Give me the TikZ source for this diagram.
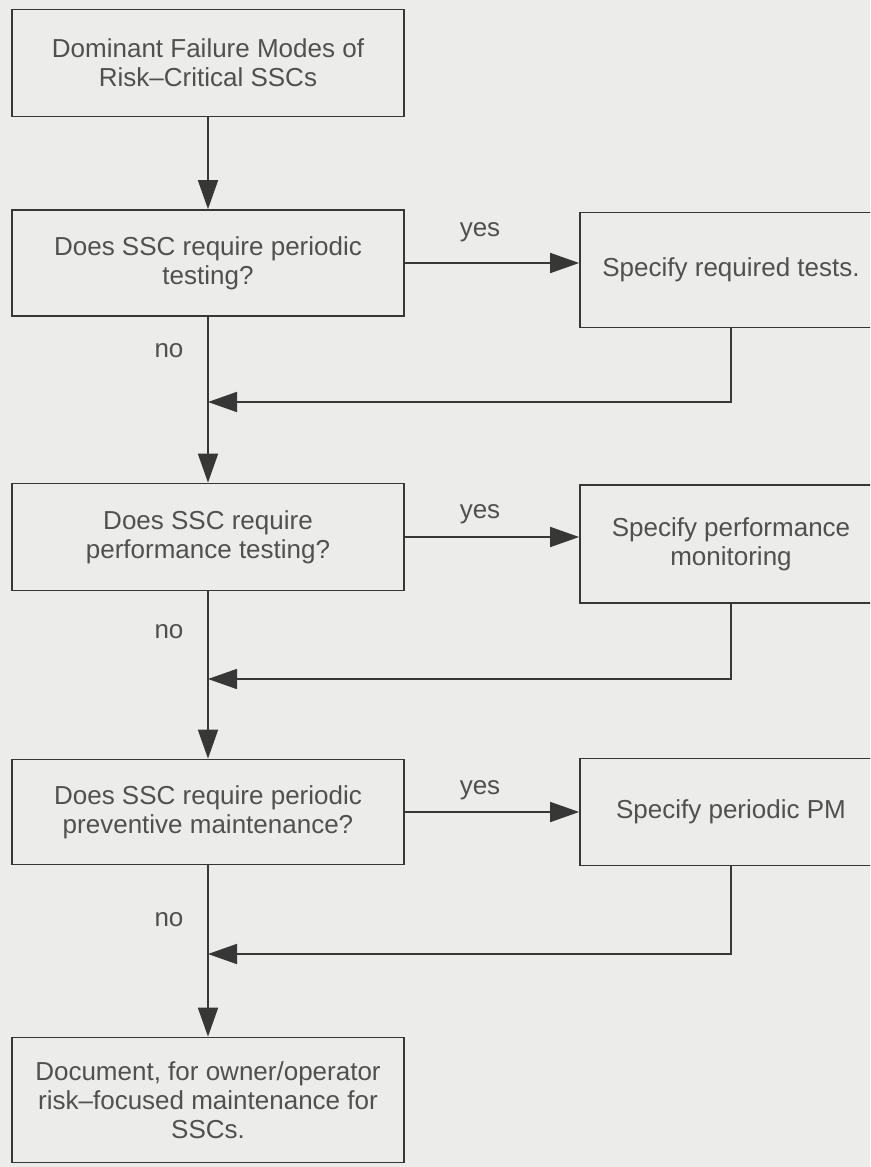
\documentclass[tikz,border=0pt]{standalone}
\usepackage{fontspec}
\setmainfont{Liberation Sans}
\usetikzlibrary{arrows.meta}
\definecolor{bg}{RGB}{236,236,234}
\definecolor{ln}{RGB}{55,55,55}
\definecolor{tx}{RGB}{80,80,80}
\begin{document}
\begin{tikzpicture}[x=1pt,y=-1pt,
  every node/.style={font=\fontsize{26}{29}\selectfont, text=tx},
  box/.style={draw=ln, line width=1.7pt, rectangle, align=center, inner sep=0pt},
  arr/.style={draw=ln, line width=1.7pt, -{Triangle[length=29pt,width=20pt]}},
  lab/.style={inner sep=0pt}]
\useasboundingbox (0,0) rectangle (870,1167);
\fill[bg] (0,0) rectangle (870,1167);
\clip (0,0) rectangle (870,1167);

\node[box, minimum width=392pt, minimum height=107pt] (b1) at (208,63) {Dominant Failure Modes of\\Risk--Critical SSCs};
\node[box, minimum width=392pt, minimum height=106pt] (b2) at (208,263) {Does SSC require periodic\\testing?};
\node[box, minimum width=392pt, minimum height=107pt] (b3) at (208,537) {Does SSC require\\performance testing?};
\node[box, minimum width=392pt, minimum height=105pt] (b4) at (208,812) {Does SSC require periodic\\preventive maintenance?};
\node[box, minimum width=392pt, minimum height=125pt] (b5) at (208,1100) {Document, for owner/operator\\risk--focused maintenance for\\SSCs.};

\node[box, minimum width=302pt, minimum height=115pt] (r1) at (731,270) {Specify required tests.};
\node[box, minimum width=302pt, minimum height=118pt] (r2) at (731,544) {Specify performance\\monitoring};
\node[box, minimum width=302pt, minimum height=107pt] (r3) at (731,812) {Specify periodic PM};

\coordinate (j1) at (208,402);
\coordinate (j2) at (208,679);
\coordinate (j3) at (208,954);

\draw[arr] (b1.south) -- (b2.north);
\draw[arr] (b2.south) -- (b3.north);
\draw[arr] (b3.south) -- (b4.north);
\draw[arr] (b4.south) -- (b5.north);

\draw[arr] (b2.east) -- (b2.east -| r1.west);
\draw[arr] (b3.east) -- (b3.east -| r2.west);
\draw[arr] (b4.east) -- (b4.east -| r3.west);

\draw[arr] (r1.south) |- (j1);
\draw[arr] (r2.south) |- (j2);
\draw[arr] (r3.south) |- (j3);

\node[lab] (y1) at (480,232) {yes};
\node[lab] (y2) at (480,514) {yes};
\node[lab] (y3) at (480,790) {yes};
\node[lab] (n1) at (169,351) {no};
\node[lab] (n2) at (169,632) {no};
\node[lab] (n3) at (169,920) {no};
\end{tikzpicture}
\end{document}
